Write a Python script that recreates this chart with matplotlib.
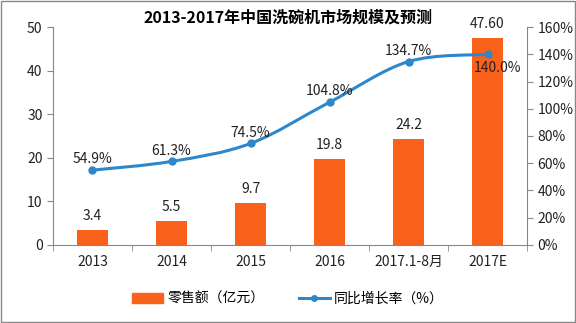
import matplotlib
matplotlib.use("Agg")
from matplotlib import pyplot as plt
from matplotlib.path import Path
from matplotlib.patches import PathPatch
from matplotlib.lines import Line2D
from matplotlib.patches import Patch
import numpy as np

plt.rcParams["font.family"] = ["Noto Sans CJK SC", "DejaVu Sans"]

years = ["2013", "2014", "2015", "2016", "2017.1-8月", "2017E"]
sales = [3.4, 5.5, 9.7, 19.8, 24.2, 47.60]
sales_labels = ["3.4", "5.5", "9.7", "19.8", "24.2", "47.60"]
growth = [54.9, 61.3, 74.5, 104.8, 134.7, 140.0]

bar_color = "#FA621C"
line_color = "#2D87CD"

fig = plt.figure(figsize=(5.76, 3.23), dpi=100)
ax = fig.add_axes([0.092, 0.242, 0.823, 0.674])
ax2 = ax.twinx()

x = np.arange(len(years))
ax.bar(x, sales, width=0.4, color=bar_color, zorder=2)
for xi, v, s in zip(x, sales, sales_labels):
    ax.text(xi, v + 1.6, s, ha="center", va="bottom", fontsize=10, color="#222222")

ax.set_ylim(0, 50)
ax.set_yticks(range(0, 51, 10))
ax.set_xlim(-0.5, len(years) - 0.5)
ax.set_xticks(x)
ax.set_xticklabels(years, fontsize=10)
ax.set_xticks(np.arange(-0.5, len(years), 1.0), minor=True)

# smooth curve through the growth points (Catmull-Rom as cubic Bezier)
pts = np.column_stack([x, growth]).astype(float)
verts = [tuple(pts[0])]
codes = [Path.MOVETO]
for i in range(len(pts) - 1):
    p0 = pts[i - 1] if i > 0 else pts[i]
    p1, p2 = pts[i], pts[i + 1]
    p3 = pts[i + 2] if i + 2 < len(pts) else pts[i + 1]
    c1 = p1 + (p2 - p0) / 6
    c2 = p2 - (p3 - p1) / 6
    verts += [tuple(c1), tuple(c2), tuple(p2)]
    codes += [Path.CURVE4] * 3
ax2.add_patch(PathPatch(Path(verts, codes), fill=False, edgecolor=line_color,
                        lw=2.2, zorder=3))
ax2.plot(x, growth, "o", color=line_color, ms=5, zorder=4)

label_pos = [(0, 8), (0, 8), (0, 8), (0, 8), (0, 8), (0.13, -10)]
for xi, g, (dx, dy) in zip(x, growth, label_pos):
    ax2.text(xi + dx, g + dy, f"{g:.1f}%", ha="center", va="center",
             fontsize=10, color="#222222", zorder=5)

ax2.set_ylim(0, 160)
ax2.set_yticks(range(0, 161, 20))
ax2.set_yticklabels([f"{t}%" for t in range(0, 161, 20)])

for a in (ax, ax2):
    a.spines["top"].set_visible(False)
    a.tick_params(labelsize=10, colors="#222222", length=4, color="#888888")
ax.spines["right"].set_visible(False)
ax2.spines["left"].set_visible(False)
ax.spines["left"].set_color("#888888")
ax.spines["bottom"].set_color("#888888")
ax2.spines["right"].set_color("#888888")
ax2.spines["bottom"].set_visible(False)
ax.tick_params(axis="x", which="major", length=0, pad=7)
ax.tick_params(axis="x", which="minor", length=4, color="#888888")

fig.text(0.5, 0.93, "2013-2017年中国洗碗机市场规模及预测", ha="center",
         fontsize=11.5, fontweight="bold")

handles = [Patch(color=bar_color),
           Line2D([0], [0], color=line_color, lw=2.2, marker="o", ms=4)]
fig.legend(handles, ["零售额（亿元）", "同比增长率（%）"], loc="center",
           bbox_to_anchor=(0.5, 0.075), ncol=2, frameon=False, fontsize=10,
           handlelength=2.2, handletextpad=0.3, columnspacing=2.5)

fig.patches.append(plt.Rectangle((0.002, 0.003), 0.996, 0.994, transform=fig.transFigure,
                                 fill=False, edgecolor="#888888", lw=1))

fig.savefig("out.png", dpi=100)
